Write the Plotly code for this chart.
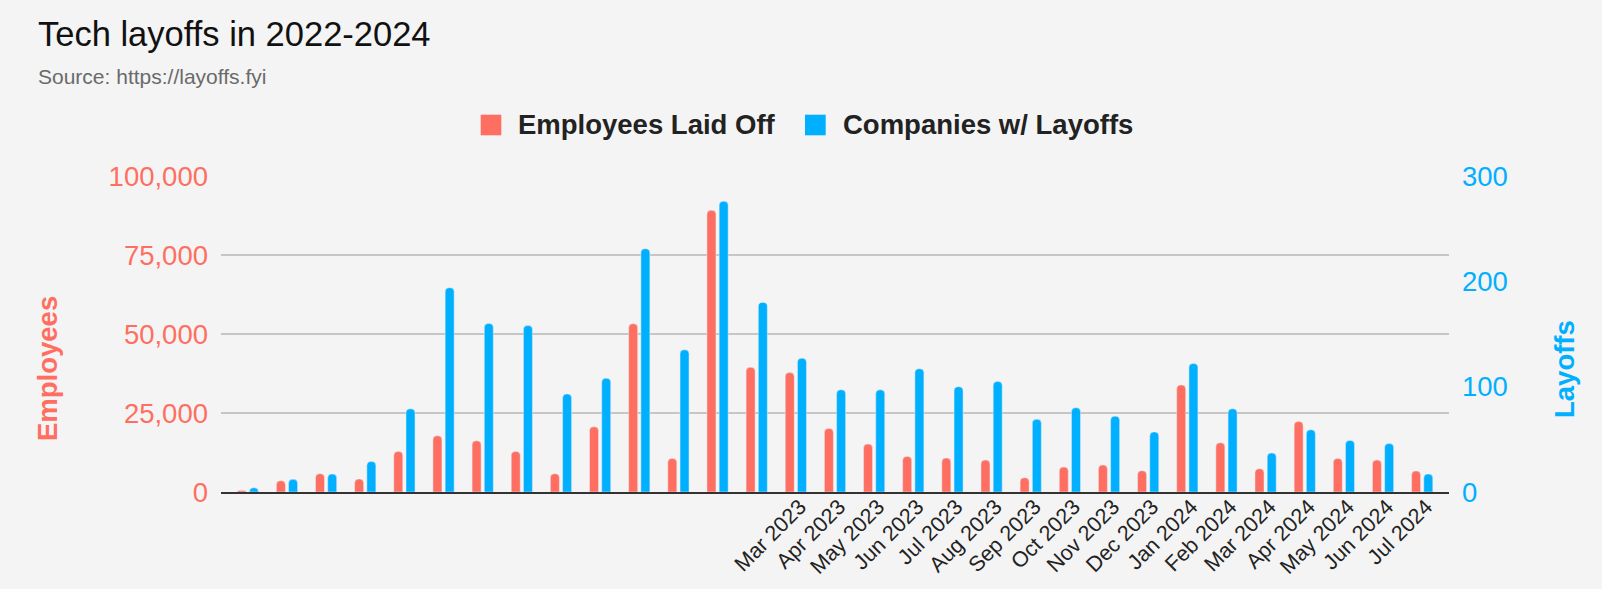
import plotly.graph_objects as go

# ---------------- data ----------------
months = [
    "Jan 2022", "Feb 2022", "Mar 2022", "Apr 2022", "May 2022", "Jun 2022",
    "Jul 2022", "Aug 2022", "Sep 2022", "Oct 2022", "Nov 2022", "Dec 2022",
    "Jan 2023", "Feb 2023", "Mar 2023", "Apr 2023", "May 2023", "Jun 2023",
    "Jul 2023", "Aug 2023", "Sep 2023", "Oct 2023", "Nov 2023", "Dec 2023",
    "Jan 2024", "Feb 2024", "Mar 2024", "Apr 2024", "May 2024", "Jun 2024",
    "Jul 2024",
]
employees_laid_off = [
    510, 3580, 5790, 4100, 12840, 17790, 16210, 12840, 5790, 20630, 53260, 10630,
    89160, 39470, 37790, 20100, 15160, 11260, 10740, 10100, 4530, 7890, 8530, 6740,
    33890, 15580, 7370, 22320, 10630, 10100, 6650,
]
companies_with_layoffs = [
    4, 12, 17, 29, 79, 194, 160, 158, 93, 108, 231, 135,
    276, 180, 127, 97, 97, 117, 100, 105, 69, 80, 72, 57,
    122, 79, 37, 59, 49, 46, 17,
]
tick_labels = [
    "Mar 2023", "Apr 2023", "May 2023", "Jun 2023", "Jul 2023", "Aug 2023",
    "Sep 2023", "Oct 2023", "Nov 2023", "Dec 2023", "Jan 2024", "Feb 2024",
    "Mar 2024", "Apr 2024", "May 2024", "Jun 2024", "Jul 2024",
]
left_ticks = [0, 25000, 50000, 75000, 100000]
right_ticks = [0, 100, 200, 300]
series_names = ["Employees Laid Off", "Companies w/ Layoffs"]
title_text = "Tech layoffs in 2022-2024"
subtitle_text = "Source: https://layoffs.fyi"
left_title = "Employees"
right_title = "Layoffs"

# ---------------- style ----------------
RED = "#FF6F61"
BLUE = "#00B0FF"
BG = "#F4F4F4"
FONT = "Liberation Sans, Arial, sans-serif"
W, H = 1602, 589
L, R, T, B = 221, 153, 176, 97
PW, PH = W - L - R, H - T - B


def px(x):
    return (x - L) / PW


def py(y):
    return (H - B - y) / PH


fig = go.Figure()
fig.add_bar(
    x=months, y=employees_laid_off, name=series_names[0], marker_color=RED,
    width=0.23, offset=-0.271, yaxis="y", showlegend=False,
)
fig.add_bar(
    x=months, y=companies_with_layoffs, name=series_names[1], marker_color=BLUE,
    width=0.23, offset=0.041, yaxis="y2", showlegend=False,
)

annotations = [
    dict(text=title_text, x=px(36), y=py(33.5), xanchor="left", yanchor="middle",
         font=dict(size=34.5, color="#111111")),
    dict(text=subtitle_text, x=px(36), y=py(76), xanchor="left", yanchor="middle",
         font=dict(size=21, color="#6a6a6a")),
    dict(text="<b>%s</b>" % series_names[0], x=px(516), y=py(124.5), xanchor="left",
         yanchor="middle", font=dict(size=27.5, color="#222222")),
    dict(text="<b>%s</b>" % series_names[1], x=px(841), y=py(124.5), xanchor="left",
         yanchor="middle", font=dict(size=27.5, color="#222222")),
    dict(text="<b>%s</b>" % left_title, x=px(47.5), y=py(368.5), xanchor="center",
         yanchor="middle", textangle=-90, font=dict(size=27.5, color=RED)),
    dict(text="<b>%s</b>" % right_title, x=px(1564), y=py(369), xanchor="center",
         yanchor="middle", textangle=-90, font=dict(size=27.5, color=BLUE)),
]
for a in annotations:
    a.update(xref="paper", yref="paper", showarrow=False)

shapes = [
    dict(type="rect", x0=px(480.7), x1=px(501.3), y0=py(135.3), y1=py(114.7),
         fillcolor=RED, line=dict(width=0)),
    dict(type="rect", x0=px(805), x1=px(825.7), y0=py(135.3), y1=py(114.7),
         fillcolor=BLUE, line=dict(width=0)),
]
for s in shapes:
    s.update(xref="paper", yref="paper", layer="above")

fig.update_layout(
    width=W, height=H,
    margin=dict(l=L, r=R, t=T, b=B, pad=0),
    paper_bgcolor=BG, plot_bgcolor=BG,
    font=dict(family=FONT, color="#222222"),
    barmode="overlay",
    barcornerradius=4,
    showlegend=False,
    annotations=annotations,
    shapes=shapes,
    xaxis=dict(
        type="category", range=[-0.685, 30.685], tickmode="array",
        tickvals=tick_labels, ticktext=tick_labels, tickangle=-45,
        tickfont=dict(size=21.5, color="#222222"), showgrid=False,
        showline=True, linecolor="#333333", linewidth=1.5, ticks="",
        zeroline=False, automargin=False, ticklabelstandoff=-8, ticklabelshift=4,
    ),
    yaxis=dict(
        range=[0, 100000], tickmode="array", tickvals=left_ticks, tickformat=",",
        tickfont=dict(size=27.5, color=RED), showgrid=True, gridcolor="#c6c6c6",
        gridwidth=1.5, zeroline=False, showline=False, ticks="",
        ticklabelstandoff=12, automargin=False,
    ),
    yaxis2=dict(
        overlaying="y", side="right", range=[0, 300], tickmode="array",
        tickvals=right_ticks, tickfont=dict(size=27.5, color=BLUE), showgrid=False,
        zeroline=False, showline=False, ticks="", ticklabelstandoff=12,
        automargin=False,
    ),
)

fig.write_html(
    "out.html",
    config={"displayModeBar": False},
    post_script="document.body.style.margin='0';document.body.style.overflow='hidden';",
)
